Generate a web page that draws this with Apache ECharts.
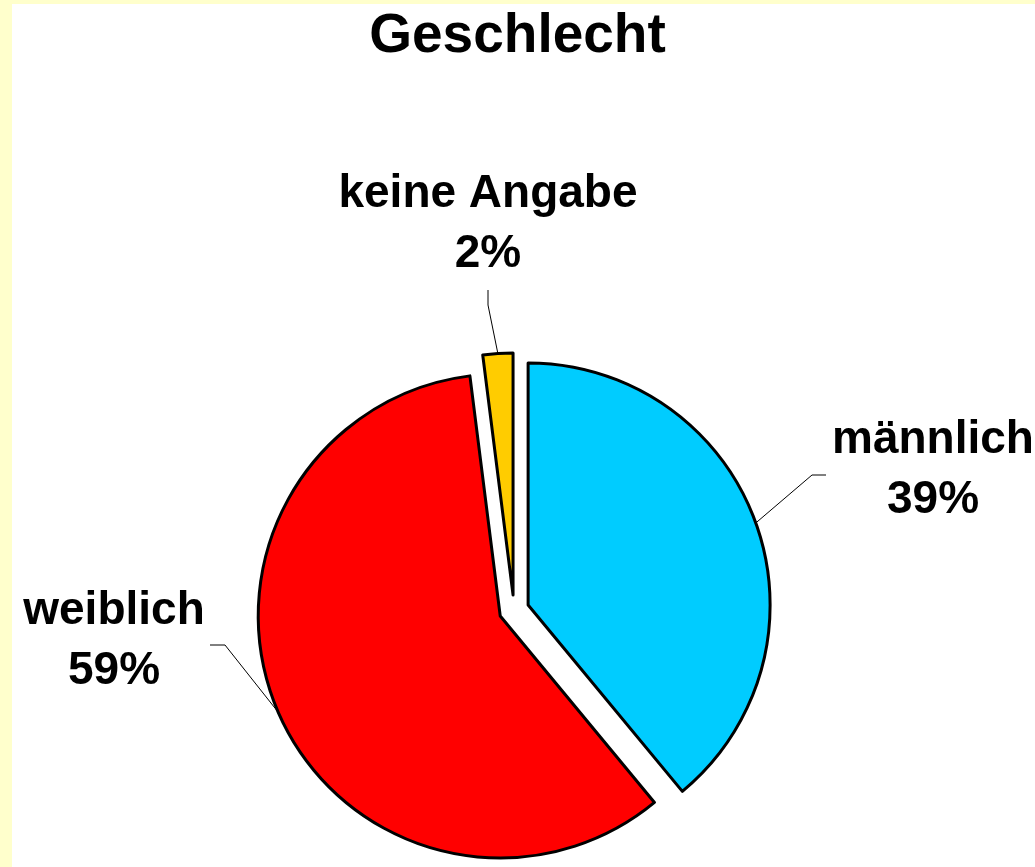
<!DOCTYPE html>
<html>
<head>
<meta charset="utf-8">
<script src="https://cdn.jsdelivr.net/npm/echarts@6/dist/echarts.min.js"></script>
<style>
html,body{margin:0;padding:0;background:#FFFFCC;}
#chart{width:1035px;height:867px;}
</style>
</head>
<body>
<div id="chart"></div>
<script>
const categories = ['männlich', 'weiblich', 'keine Angabe'];
const values = [39, 59, 2];
const colors = ['#00CCFF', '#FF0000', '#FFCC00'];

// styling / layout constants
const labelCenters = [[933, 470], [114, 641], [488, 224]];
const lineBends = [[[812, 475], [826, 475]], [[225, 645], [210, 645]], [[488, 305], [488, 290]]];
const pieCenter = [514, 610];
const pieRadius = 242;
const explode = 15;

const chart = echarts.init(document.getElementById('chart'));
const font = '"Liberation Sans", Arial, sans-serif';
const total = values.reduce((a, b) => a + b, 0);

let cum = 0;
const series = categories.map((name, i) => {
  const mid = (cum + values[i] / 2) / total * 2 * Math.PI;
  cum += values[i];
  const cx = pieCenter[0] + explode * Math.sin(mid);
  const cy = pieCenter[1] - explode * Math.cos(mid);
  return {
    type: 'pie',
    center: [cx, cy],
    radius: pieRadius,
    startAngle: 90,
    clockwise: true,
    silent: true,
    emphasis: {disabled: true},
    label: {
      show: true,
      position: 'outside',
      formatter: '{b}\n{c}%',
      fontFamily: font, fontWeight: 'bold', fontSize: 46, lineHeight: 60, color: '#000',
      align: 'center'
    },
    labelLine: {show: true, length: 40, length2: 15, lineStyle: {color: '#000', width: 1}},
    labelLayout: function (p) {
      const c = labelCenters[i];
      const b = lineBends[i];
      const p0 = p.labelLinePoints ? p.labelLinePoints[0] : null;
      const res = {x: c[0], y: c[1], align: 'center', verticalAlign: 'middle'};
      if (p0) res.labelLinePoints = [p0, b[0], b[1]];
      return res;
    },
    data: categories.map((n, j) => j === i ? {
      name: n, value: values[j],
      itemStyle: {color: colors[j], borderColor: '#000', borderWidth: 3}
    } : {
      name: n, value: values[j],
      itemStyle: {color: 'rgba(0,0,0,0)', borderWidth: 0},
      label: {show: false}, labelLine: {show: false}
    })
  };
});

chart.setOption({
  animation: false,
  backgroundColor: '#FFFFCC',
  graphic: [{
    type: 'rect', z: -10, silent: true,
    shape: {x: 12, y: 4, width: 1100, height: 900},
    style: {fill: '#FFFFFF'}
  }],
  title: {
    text: 'Geschlecht',
    left: 'center',
    top: 4,
    textStyle: {fontFamily: font, fontWeight: 'bold', fontSize: 55, color: '#000'}
  },
  series: series
});
</script>
</body>
</html>
